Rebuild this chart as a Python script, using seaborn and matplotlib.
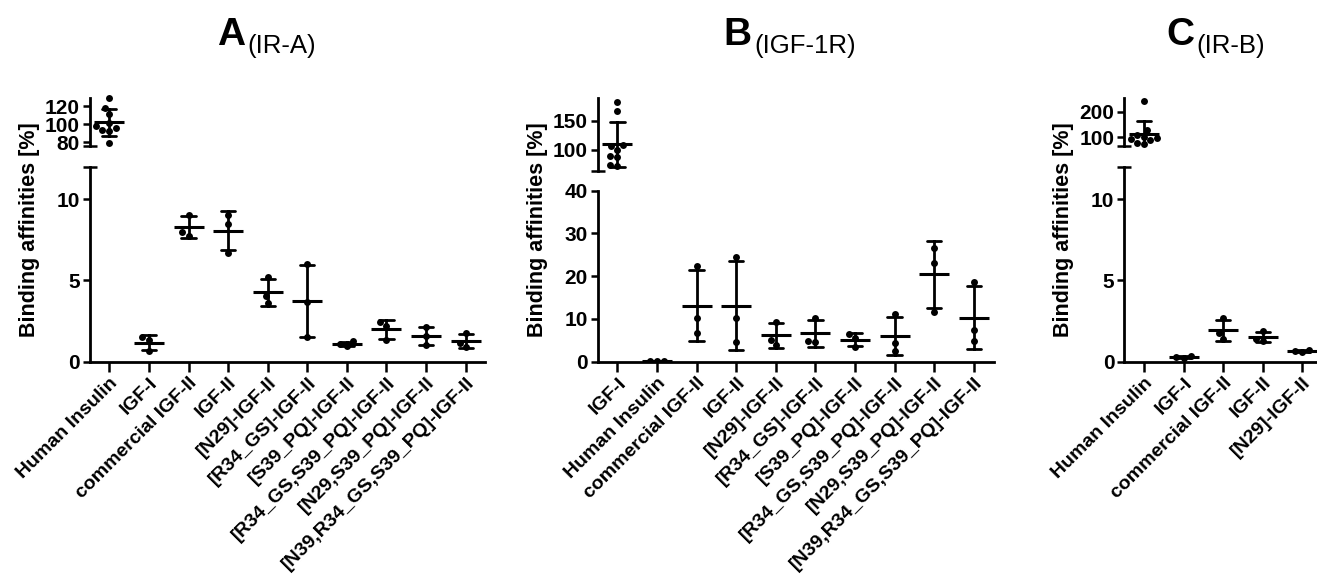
import pandas as pd
import matplotlib
matplotlib.use("Agg")
import matplotlib.pyplot as plt
import seaborn as sns

W, H = 1317, 578

# values (binding affinities in %)
A_LABELS = ["Human Insulin", "IGF-I", "commercial IGF-II", "IGF-II",
            "[N29]-IGF-II", "[R34_GS]-IGF-II", "[S39_PQ]-IGF-II",
            "[R34_GS,S39_PQ]-IGF-II", "[N29,S39_PQ]-IGF-II",
            "[N39,R34_GS,S39_PQ]-IGF-II"]
A_VALUES = [[129, 118, 112, 102, 98, 96, 94, 93, 79],
            [1.5, 1.35, 0.65],
            [9.03, 8.0, 7.76],
            [9.0, 8.46, 6.71],
            [5.2, 4.02, 3.6],
            [6.0, 3.65, 1.54],
            [1.25, 1.07, 0.98],
            [2.42, 2.22, 1.33],
            [2.15, 1.6, 1.0],
            [1.75, 1.15, 0.9]]

B_LABELS = ["IGF-I", "Human Insulin", "commercial IGF-II", "IGF-II",
            "[N29]-IGF-II", "[R34_GS]-IGF-II", "[S39_PQ]-IGF-II",
            "[R34_GS,S39_PQ]-IGF-II", "[N29,S39_PQ]-IGF-II",
            "[N39,R34_GS,S39_PQ]-IGF-II"]
B_VALUES = [[182, 166, 108, 106, 100, 90, 88, 75, 72],
            [0.1, 0.1, 0.1],
            [22.5, 10.3, 6.6],
            [24.6, 10.2, 4.5],
            [9.4, 5.1, 3.9],
            [10.3, 4.8, 4.7],
            [6.5, 5.6, 3.4],
            [11.1, 4.45, 2.5],
            [26.6, 23.2, 11.6],
            [18.6, 7.4, 4.85]]

C_LABELS = ["Human Insulin", "IGF-I", "commercial IGF-II", "IGF-II",
            "[N29]-IGF-II"]
C_VALUES = [[243, 128, 108, 103, 98, 92, 88, 78, 75],
            [0.35, 0.28, 0.25],
            [2.67, 1.76, 1.42],
            [1.9, 1.4, 1.3],
            [0.7, 0.63, 0.6]]

A_TOP_LIM, A_TOP_TICKS = (76, 129), [80, 100, 120]
A_BOT_LIM, A_BOT_TICKS = (0, 12), [0, 5, 10]
B_TOP_LIM, B_TOP_TICKS = (64, 188), [100, 150]
B_BOT_LIM, B_BOT_TICKS = (0, 40), [0, 10, 20, 30, 40]
C_TOP_LIM, C_TOP_TICKS = (66, 252), [100, 200]
C_BOT_LIM, C_BOT_TICKS = (0, 12), [0, 5, 10]

sns.set_style("ticks")
plt.rcParams["font.family"] = ["Liberation Sans", "DejaVu Sans"]
plt.rcParams["font.weight"] = "bold"
plt.rcParams["axes.linewidth"] = 2.0
for key in ["text.color", "axes.labelcolor", "xtick.color", "ytick.color", "axes.edgecolor"]:
    plt.rcParams[key] = "black"


def to_frame(labels, values):
    rows = [(lab, v) for lab, vals in zip(labels, values) for v in vals]
    return pd.DataFrame(rows, columns=["peptide", "affinity"])


def px_box(left, top, right, bottom):
    return [left / W, 1 - bottom / H, (right - left) / W, (bottom - top) / H]


def draw_groups(ax, df, labels):
    sns.swarmplot(data=df, x="peptide", y="affinity", order=labels,
                  color="black", size=5, ax=ax)
    sns.pointplot(data=df, x="peptide", y="affinity", order=labels,
                  errorbar="sd", capsize=0.36, color="black",
                  linestyle="none", marker="_", markersize=21,
                  markeredgewidth=2.2, err_kws={"linewidth": 2.0}, ax=ax)
    ax.set_xlim(-0.5, len(labels) - 0.5)
    ax.set_xlabel("")
    ax.set_ylabel("")
    ax.tick_params(axis="both", labelsize=15, width=1.8, length=5, pad=2)
    sns.despine(ax=ax)


def panel(x_left, top_bottom, bot_top, labels, values, top_lim, top_ticks,
          bot_lim, bot_ticks):
    n = len(labels)
    x_right = x_left + 39.6 * n
    df = to_frame(labels, values)

    # upper segment of the broken axis: only groups above the break
    ax_top = fig.add_axes(px_box(x_left, 98.3, x_right, top_bottom))
    draw_groups(ax_top, df[df["affinity"] > bot_lim[1]], labels)
    ax_top.set_ylim(*top_lim)
    ax_top.set_yticks(top_ticks)
    ax_top.set_yticks([top_lim[0]], minor=True)
    ax_top.tick_params(axis="y", which="minor", direction="inout", length=10, width=1.8)
    ax_top.spines["bottom"].set_visible(False)
    ax_top.tick_params(axis="x", bottom=False, labelbottom=False)
    ax_top.patch.set_alpha(0)
    for coll in ax_top.collections:
        coll.set_clip_on(False)

    ax_bot = fig.add_axes(px_box(x_left, bot_top, x_right, 361.7))
    draw_groups(ax_bot, df, labels)
    ax_bot.set_ylim(*bot_lim)
    ax_bot.set_yticks(bot_ticks)
    ax_bot.set_yticks([bot_lim[1]], minor=True)
    ax_bot.tick_params(axis="y", which="minor", direction="inout", length=10, width=1.8)
    ax_bot.tick_params(axis="x", length=7)
    ax_bot.set_xticks(range(n))
    ax_bot.set_xticklabels(labels, rotation=45, ha="right",
                           rotation_mode="anchor", fontsize=14, fontweight="bold")
    ax_bot.patch.set_alpha(0)
    return ax_top, ax_bot


fig = plt.figure(figsize=(W / 100, H / 100), dpi=100)

panel(89.5, 146, 166.7, A_LABELS, A_VALUES, A_TOP_LIM, A_TOP_TICKS, A_BOT_LIM, A_BOT_TICKS)
panel(597.6, 171, 190.7, B_LABELS, B_VALUES, B_TOP_LIM, B_TOP_TICKS, B_BOT_LIM, B_BOT_TICKS)
panel(1124.2, 146, 166.7, C_LABELS, C_VALUES, C_TOP_LIM, C_TOP_TICKS, C_BOT_LIM, C_BOT_TICKS)

# y axis titles, centred over both halves of each broken axis
for xpix in [30, 537, 1063]:
    fig.text(xpix / W, 1 - 230 / H, "Binding affinities [%]", rotation=90,
             ha="center", va="center", fontsize=15.5, fontweight="bold")

# panel letters with receptor subscripts
for letter, sub, xsep in [("A", "(IR-A)", 245), ("B", "(IGF-1R)", 752), ("C", "(IR-B)", 1194)]:
    fig.text(xsep / W, 1 - 45 / H, letter, ha="right", va="baseline",
             fontsize=28, fontweight="bold")
    fig.text((xsep + 2) / W, 1 - 53 / H, sub, ha="left", va="baseline",
             fontsize=18.5, fontweight="normal")

fig.savefig("out.png", dpi=100)
